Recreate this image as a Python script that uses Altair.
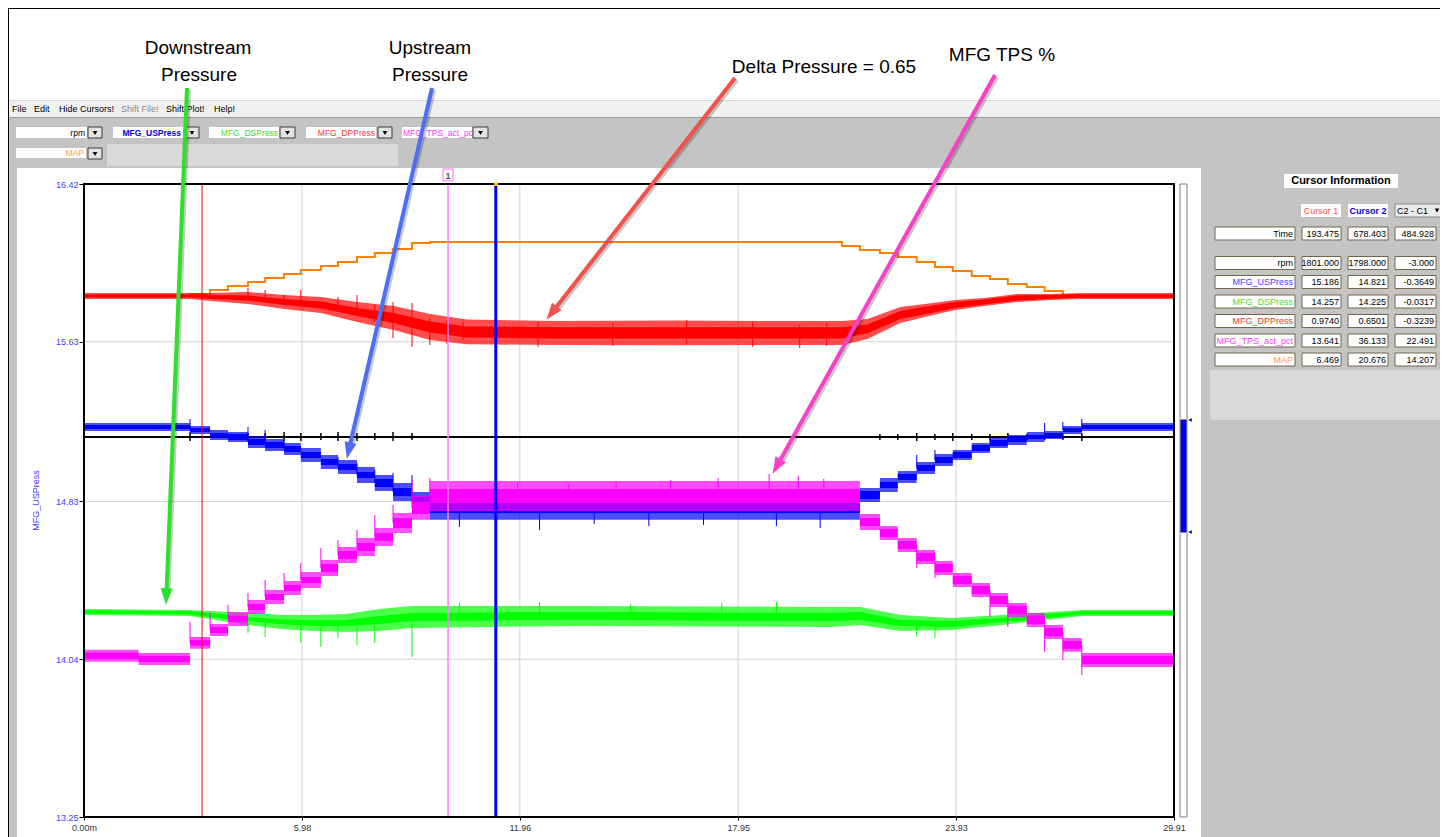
import altair as alt
import numpy as np
import pandas as pd

# ======================= values =======================
X_TICKS = [0.0, 5.98, 11.96, 17.95, 23.93, 29.91]
Y_TICKS = [13.25, 14.04, 14.83, 15.63, 16.42]
X_DOMAIN = [0.0, 29.91]
Y_DOMAIN = [13.25, 16.42]

# MAP (orange) - stepped trace
map_t = [0.00, 2.91, 3.46, 3.95, 4.50, 4.97, 5.49, 5.95, 6.50, 6.97, 7.49, 7.98, 8.48, 9.00, 9.49,
         20.80, 21.29, 21.84, 22.33, 22.85, 23.35, 23.84, 24.36, 24.86, 25.35, 25.87, 26.36, 26.86, 27.38, 29.91]
map_v = [15.859, 15.869, 15.889, 15.909, 15.929, 15.949, 15.969, 15.989, 16.009, 16.029, 16.054, 16.074, 16.095, 16.125, 16.130,
         16.110, 16.090, 16.074, 16.054, 16.029, 16.004, 15.984, 15.959, 15.944, 15.919, 15.904, 15.884, 15.864, 15.854, 15.854]

# MFG_DPPress (red) - centre, dense-core half-width, outer noise half-width
dp_t = [0.0, 2.9, 3.5, 4.5, 5.5, 6.5, 7.5, 8.5, 9.5, 10.5, 13.0, 16.0, 19.0, 20.8, 21.5, 22.4, 23.3, 23.9, 24.7, 25.6, 26.5, 27.4, 29.91]
dp_v = [15.859, 15.859, 15.854, 15.849, 15.829, 15.814, 15.779, 15.749, 15.704, 15.679, 15.674, 15.674, 15.674, 15.674,
        15.694, 15.764, 15.794, 15.814, 15.829, 15.849, 15.854, 15.859, 15.859]
dp_core = [0.008, 0.008, 0.010, 0.012, 0.015, 0.018, 0.020, 0.025, 0.028, 0.028, 0.028, 0.028, 0.028, 0.028,
           0.022, 0.020, 0.017, 0.015, 0.013, 0.012, 0.010, 0.008, 0.008]
dp_outer = [0.015, 0.015, 0.020, 0.030, 0.035, 0.040, 0.050, 0.060, 0.065, 0.062, 0.060, 0.062, 0.060, 0.060,
            0.050, 0.040, 0.030, 0.025, 0.020, 0.020, 0.015, 0.015, 0.015]
dp_spk_t = [4.50, 4.97, 5.49, 5.95, 6.97, 7.49, 7.98, 8.48, 9.00, 9.49, 9.96, 10.4, 12.46, 14.51, 16.54, 18.35, 19.64, 20.38]
dp_spk_a = [15.839, 15.829, 15.819, 15.809, 15.789, 15.779, 15.729, 15.649, 15.604, 15.614, 15.619, 15.639, 15.604, 15.609,
            15.619, 15.604, 15.599, 15.609]
dp_spk_b = [15.899, 15.889, 15.864, 15.889, 15.854, 15.864, 15.814, 15.829, 15.824, 15.749, 15.739, 15.729, 15.729, 15.724,
            15.739, 15.729, 15.714, 15.724]

# rpm (black)
rpm_t = [0.0, 29.91]
rpm_v = [15.153, 15.153]
rpm_spk_t = [2.91, 4.50, 4.97, 5.49, 5.95, 6.50, 6.97, 7.49, 7.98, 8.48, 9.00,
             21.84, 22.33, 22.85, 23.35, 23.84, 24.36, 24.86, 25.35, 25.87, 26.36, 26.86, 27.38]
rpm_spk_a = [15.133, 15.133, 15.138, 15.133, 15.133, 15.138, 15.133, 15.133, 15.138, 15.133, 15.138,
             15.138, 15.138, 15.133, 15.138, 15.133, 15.138, 15.138, 15.133, 15.138, 15.138, 15.138, 15.133]
rpm_spk_b = [15.178, 15.173, 15.173, 15.178, 15.173, 15.173, 15.178, 15.173, 15.173, 15.178, 15.173,
             15.168, 15.168, 15.173, 15.168, 15.173, 15.168, 15.168, 15.173, 15.168, 15.168, 15.168, 15.173]

# MFG_USPress (blue) - stepped trace
us_t = [0.00, 2.91, 3.46, 3.95, 4.50, 4.97, 5.49, 5.95, 6.50, 6.97, 7.49, 7.98, 8.48, 9.00, 9.49,
        21.29, 21.84, 22.33, 22.85, 23.35, 23.84, 24.36, 24.86, 25.35, 25.87, 26.36, 26.86, 27.38, 29.91]
us_v = [15.203, 15.188, 15.163, 15.153, 15.128, 15.113, 15.093, 15.063, 15.028, 15.003, 14.963, 14.923, 14.878, 14.828, 14.798,
        14.863, 14.913, 14.953, 14.998, 15.038, 15.063, 15.098, 15.123, 15.138, 15.153, 15.163, 15.188, 15.203, 15.203]
us_core = [0.010, 0.010, 0.010, 0.015, 0.015, 0.015, 0.015, 0.015, 0.015, 0.015, 0.015, 0.020, 0.020, 0.025, 0.025,
           0.020, 0.015, 0.015, 0.015, 0.015, 0.015, 0.015, 0.015, 0.010, 0.010, 0.010, 0.010, 0.010, 0.010]
us_outer = [0.020, 0.020, 0.025, 0.025, 0.030, 0.030, 0.030, 0.035, 0.035, 0.035, 0.040, 0.040, 0.045, 0.050, 0.060,
            0.035, 0.035, 0.030, 0.030, 0.030, 0.025, 0.025, 0.025, 0.025, 0.025, 0.020, 0.020, 0.020, 0.020]
us_spk_t = [2.91, 4.50, 4.97, 5.49, 6.97, 7.49, 7.98, 8.48, 9.00, 10.3, 12.5, 14.0, 15.5, 17.0, 19.0, 20.2,
            22.85, 23.35, 24.86, 25.35, 26.36, 26.86, 27.38]
us_spk_a = [15.188, 15.128, 15.113, 15.093, 15.003, 14.963, 14.923, 14.878, 14.828, 14.702, 14.687, 14.717, 14.707, 14.712,
            14.707, 14.697, 14.998, 15.038, 15.123, 15.138, 15.163, 15.188, 15.203]
us_spk_b = [15.243, 15.203, 15.188, 15.138, 15.053, 15.023, 14.988, 14.973, 14.963, 14.798, 14.798, 14.798, 14.798, 14.798,
            14.798, 14.798, 15.063, 15.088, 15.148, 15.173, 15.223, 15.228, 15.243]

# MFG_DSPress (green)
ds_t = [0.0, 2.9, 3.46, 3.95, 4.5, 5.4, 6.3, 7.2, 8.1, 9.0, 13.6, 20.5, 21.3, 22.4, 23.8, 25.2, 26.1, 27.4, 29.91]
ds_v = [14.277, 14.272, 14.262, 14.252, 14.242, 14.227, 14.222, 14.222, 14.237, 14.252, 14.257, 14.252, 14.257,
        14.222, 14.217, 14.237, 14.252, 14.272, 14.272]
ds_core = [0.008, 0.008, 0.010, 0.010, 0.010, 0.012, 0.015, 0.015, 0.020, 0.020, 0.020, 0.020, 0.020, 0.015, 0.015,
           0.010, 0.010, 0.008, 0.008]
ds_outer = [0.015, 0.015, 0.020, 0.025, 0.030, 0.035, 0.040, 0.045, 0.055, 0.055, 0.050, 0.050, 0.045, 0.040, 0.030,
            0.025, 0.020, 0.015, 0.015]
ds_spk_t = [4.50, 4.97, 5.95, 6.50, 6.97, 7.49, 7.98, 9.00, 10.3, 12.5, 15.0, 17.5, 19.0, 22.85, 23.35]
ds_spk_a = [14.172, 14.152, 14.122, 14.102, 14.147, 14.112, 14.122, 14.051, 14.252, 14.252, 14.252, 14.252, 14.252,
            14.152, 14.147]
ds_spk_b = [14.242, 14.237, 14.227, 14.222, 14.222, 14.222, 14.232, 14.252, 14.322, 14.327, 14.317, 14.322, 14.327,
            14.222, 14.222]

# MFG_TPS_act_pct (magenta) - stepped trace
tps_t = [0.00, 1.50, 2.91, 3.46, 3.95, 4.50, 4.97, 5.49, 5.95, 6.50, 6.97, 7.49, 7.98, 8.48, 9.00, 9.49,
         21.29, 21.84, 22.33, 22.85, 23.35, 23.84, 24.36, 24.86, 25.35, 25.87, 26.36, 26.86, 27.38, 29.91]
tps_v = [14.057, 14.041, 14.122, 14.187, 14.242, 14.302, 14.352, 14.397, 14.437, 14.497, 14.562, 14.602, 14.652, 14.722,
         14.798, 14.858, 14.727, 14.672, 14.612, 14.552, 14.497, 14.437, 14.387, 14.337, 14.287, 14.237, 14.177, 14.112,
         14.036, 14.036]
tps_core = [0.015, 0.015, 0.015, 0.015, 0.015, 0.015, 0.015, 0.015, 0.015, 0.020, 0.020, 0.020, 0.020, 0.025, 0.030, 0.035,
            0.020, 0.020, 0.020, 0.020, 0.020, 0.020, 0.020, 0.020, 0.020, 0.020, 0.020, 0.020, 0.020, 0.020]
tps_outer = [0.030, 0.030, 0.030, 0.030, 0.035, 0.035, 0.035, 0.035, 0.040, 0.040, 0.040, 0.045, 0.045, 0.050, 0.060, 0.075,
             0.040, 0.035, 0.035, 0.035, 0.035, 0.035, 0.035, 0.035, 0.035, 0.035, 0.035, 0.035, 0.035, 0.035]
tps_spk_t = [2.91, 3.46, 3.95, 4.50, 4.97, 5.49, 5.95, 6.50, 6.97, 7.49, 7.98, 8.48, 9.00,
             9.49, 11.9, 13.3, 14.6, 16.1, 17.4, 18.8, 19.6, 20.3,
             22.85, 23.35, 24.86, 25.35, 26.36, 26.86, 27.38]
tps_spk_a = [14.122, 14.187, 14.242, 14.302, 14.352, 14.397, 14.437, 14.497, 14.562, 14.602, 14.652, 14.722, 14.798,
             14.858, 14.858, 14.858, 14.858, 14.858, 14.858, 14.858, 14.858, 14.858,
             14.497, 14.447, 14.252, 14.202, 14.077, 14.036, 13.961]
tps_spk_b = [14.227, 14.272, 14.312, 14.372, 14.437, 14.472, 14.522, 14.597, 14.637, 14.687, 14.762, 14.813, 14.938,
             14.948, 14.928, 14.918, 14.928, 14.938, 14.948, 14.968, 14.958, 14.943,
             14.612, 14.552, 14.387, 14.337, 14.237, 14.177, 14.112]

# cursors (time positions)
cursor_t = [3.24, 9.99, 11.30]
cursor_c = ["#e01010", "#ff80ff", "#0000ff"]
cursor_w = [1, 1.5, 3]

# dropdown channel selectors
sel_names = ["rpm", "MFG_USPress", "MFG_DSPress", "MFG_DPPress", "MFG_TPS_act_pc", "MAP"]
sel_colors = ["#000000", "#0000ee", "#33e033", "#ff3333", "#ff33ff", "#ff9a40"]

# cursor information panel
info_labels = ["Time", "rpm", "MFG_USPress", "MFG_DSPress", "MFG_DPPress", "MFG_TPS_act_pct", "MAP"]
info_colors = ["#000000", "#000000", "#4040ff", "#40e040", "#ff3030", "#ff40ff", "#ff9a40"]
info_c1 = ["193.475", "1801.000", "15.186", "14.257", "0.9740", "13.641", "6.469"]
info_c2 = ["678.403", "1798.000", "14.821", "14.225", "0.6501", "36.133", "20.676"]
info_d = ["484.928", "-3.000", "-0.3649", "-0.0317", "-0.3239", "22.491", "14.207"]

# annotations
annot_text = ["Downstream", "Pressure", "Upstream", "Pressure", "Delta Pressure = 0.65", "MFG TPS %"]

# ======================= layout (screen pixels) =======================
OX, OY = 84, 184
PW, PH = 1090, 633
FONT = "Liberation Sans"


def px(x):
    return x - OX


def py(y):
    return y - OY


def PX(f):
    return alt.X(f + ":Q", scale=None, axis=None)


def PY(f):
    return alt.Y(f + ":Q", scale=None, axis=None)


xs = alt.Scale(domain=X_DOMAIN, nice=False, zero=False)
ys = alt.Scale(domain=Y_DOMAIN, nice=False, zero=False)
x_axis = alt.Axis(values=X_TICKS, labelExpr="datum.value == 0 ? '0.00m' : format(datum.value, '.2f')",
                  grid=False, domain=False, tickSize=3, tickColor="black", labelFont=FONT, labelFontSize=9,
                  labelColor="#333333", labelPadding=3, title=None, zindex=1, labelFlush=False, labelOverlap=False)
y_axis = alt.Axis(values=Y_TICKS, format=".2f", grid=False, domain=False, tickSize=5, tickColor="black",
                  labelFont=FONT, labelFontSize=9, labelColor="#4040ff", labelPadding=1, title="MFG_USPress",
                  titleColor="#4040ff", titleFont=FONT, titleFontSize=9, titleFontWeight="normal",
                  titleX=-49, titleY=316, titleAngle=270, titleAlign="center", titleBaseline="middle",
                  zindex=1, labelFlush=False, labelOverlap=False)


def XT(f="t"):
    return alt.X(f + ":Q", scale=xs, axis=x_axis)


def YV(f):
    return alt.Y(f + ":Q", scale=ys, axis=y_axis)


def rect_layer(rows, sw=1):
    df = pd.DataFrame(rows, columns=["x1", "y1", "x2", "y2", "fill", "stroke"])
    df["x1"] = df["x1"].map(px); df["x2"] = df["x2"].map(px)
    df["y1"] = df["y1"].map(py); df["y2"] = df["y2"].map(py)
    return alt.Chart(df).mark_rect(strokeWidth=sw).encode(
        x=PX("x1"), x2="x2:Q", y=PY("y1"), y2="y2:Q",
        fill=alt.Fill("fill:N", scale=None), stroke=alt.Stroke("stroke:N", scale=None))


def text_layer(rows, align="left", size=9, weight="normal", font=FONT):
    df = pd.DataFrame(rows, columns=["s", "x", "y", "c"])
    df["x"] = df["x"].map(px); df["y"] = df["y"].map(py)
    return alt.Chart(df).mark_text(align=align, baseline="middle", fontSize=size, fontWeight=weight, font=font).encode(
        x=PX("x"), y=PY("y"), text="s:N", color=alt.Color("c:N", scale=None))


def glyph_layer(rows, shape, size):
    df = pd.DataFrame(rows, columns=["x", "y", "c"])
    df["x"] = df["x"].map(px); df["y"] = df["y"].map(py)
    return alt.Chart(df).mark_point(shape=shape, size=size, filled=True, opacity=1, strokeWidth=0).encode(
        x=PX("x"), y=PY("y"), color=alt.Color("c:N", scale=None))


layers = []

# ---------- window background ----------
layers.append(rect_layer([
    (8, 8, 1443, 100, "#ffffff", "transparent"),
    (8, 100, 1443, 117, "#f0f0f0", "transparent"),
    (8, 117, 1443, 837, "#c4c4c4", "transparent"),
    (107, 144, 398, 166, "#d9d9d9", "transparent"),
    (17, 168, 1201, 837, "#ffffff", "transparent"),
    (1210, 370, 1441, 420, "#d9d9d9", "transparent"),
    (8, 100, 1443, 101, "#d6d6d6", "transparent"),
    (8, 117, 1443, 118, "#9a9a9a", "transparent"),
]))

# ---------- selector boxes ----------
sel_boxes = [(16, 127, 87, 138), (113, 127, 183, 138), (209, 127, 279, 138), (306, 127, 376, 138),
             (402, 127, 472, 138), (16, 148, 86, 158)]
sel_btns = [(88, 127, 102, 138), (185, 127, 199, 138), (280, 127, 295, 138), (378, 127, 392, 138),
            (473, 127, 488, 138), (88, 148, 102, 159)]
layers.append(rect_layer([b + ("#ffffff", "transparent") for b in sel_boxes]))
layers.append(text_layer([
    (sel_names[0], 85, 132.5, sel_colors[0]),
    (sel_names[2], 278, 132.5, sel_colors[2]),
    (sel_names[3], 375, 132.5, sel_colors[3]),
    (sel_names[5], 84, 153, sel_colors[5]),
], align="right", size=8.5))
layers.append(text_layer([(sel_names[1], 181, 132.5, sel_colors[1])], align="right", size=8.5, weight="bold"))
layers.append(text_layer([(sel_names[4], 403, 132.5, sel_colors[4])], align="left", size=8.5))
layers.append(rect_layer([b + ("#e3e3e3", "#3a3a3a") for b in sel_btns]))
layers.append(glyph_layer([((b[0] + b[2]) / 2, (b[1] + b[3]) / 2 + 0.5, "#000000") for b in sel_btns],
                          "triangle-down", 22))

# ---------- menu bar ----------
layers.append(text_layer([
    ("File", 12, 108.5, "#000000"), ("Edit", 34, 108.5, "#000000"), ("Hide Cursors!", 59, 108.5, "#000000"),
    ("Shift File!", 121, 108.5, "#8c8c8c"), ("Shift Plot!", 166, 108.5, "#000000"), ("Help!", 214, 108.5, "#000000"),
]))

# ---------- cursor information panel ----------
row_y = [233.5, 263, 282, 301.5, 321, 340.5, 359.5]
info_rects = [(1284, 174, 1398, 188, "#ffffff", "transparent"),
              (1301, 204, 1341, 217, "#ffffff", "transparent"),
              (1348, 204, 1388, 217, "#ffffff", "transparent"),
              (1395, 204, 1443, 217, "#ececec", "#8a8a8a")]
for y in row_y:
    for (a, b) in [(1215, 1295), (1302, 1341), (1348, 1388), (1395, 1436)]:
        info_rects.append((a, y - 6.5, b, y + 6.5, "#ffffff", "#72664c"))
layers.append(rect_layer(info_rects))
layers.append(text_layer([("Cursor Information", 1341, 181, "#000000")], align="center", size=11, weight="bold"))
layers.append(text_layer([("Cursor 1", 1321, 210.5, "#ff5050")], align="center"))
layers.append(text_layer([("Cursor 2", 1368, 210.5, "#0000ee")], align="center", weight="bold"))
layers.append(text_layer([("C2 - C1", 1397, 210.5, "#000000")]))
layers.append(glyph_layer([(1437, 210.5, "#000000")], "triangle-down", 22))
rows_r = []
for i, y in enumerate(row_y):
    rows_r.append((info_labels[i], 1293, y, info_colors[i]))
    rows_r.append((info_c1[i], 1339, y, "#000000"))
    rows_r.append((info_c2[i], 1386, y, "#000000"))
    rows_r.append((info_d[i], 1434, y, "#000000"))
layers.append(text_layer(rows_r, align="right"))

# ---------- side scroll bar ----------
layers.append(rect_layer([(1180, 184, 1187, 817, "#ffffff", "#7f7f7f"),
                          (1181, 420, 1186, 532, "#0000ff", "#000080")]))
layers.append(glyph_layer([(1190, 420, "#1a1a9a"), (1190, 532, "#1a1a9a")], "triangle-left", 18))

# ---------- grid ----------
layers.append(alt.Chart(pd.DataFrame({"t": X_TICKS[1:-1]})).mark_rule(color="#d2d2d2", strokeWidth=1).encode(x=XT()))
layers.append(alt.Chart(pd.DataFrame({"v": Y_TICKS[1:-1]})).mark_rule(color="#d2d2d2", strokeWidth=1).encode(y=YV("v")))
# axis carrier
layers.append(alt.Chart(pd.DataFrame({"t": X_TICKS, "v": Y_TICKS + [16.42]})).mark_point(opacity=0).encode(
    x=XT(), y=YV("v")))


def band_df(t, v, core, outer):
    v = np.array(v); c = np.array(core); o = np.array(outer)
    return pd.DataFrame({"t": t, "lo": v - c, "hi": v + c, "olo": v - o, "ohi": v + o})


def band_layers(df, color, interp):
    return [
        alt.Chart(df).mark_area(interpolate=interp, color=color, opacity=0.7).encode(
            x=XT(), y=YV("olo"), y2="ohi:Q"),
        alt.Chart(df).mark_area(interpolate=interp, color=color, opacity=1).encode(
            x=XT(), y=YV("lo"), y2="hi:Q"),
    ]


def spike_layer(t, a, b, color, w=1):
    return alt.Chart(pd.DataFrame({"t": t, "a": a, "b": b})).mark_rule(color=color, strokeWidth=w).encode(
        x=XT(), y=YV("a"), y2="b:Q")


# ---------- traces ----------
layers.append(alt.Chart(pd.DataFrame({"t": map_t, "v": map_v})).mark_line(
    interpolate="step-after", color="#ff8000", strokeWidth=2).encode(x=XT(), y=YV("v")))
layers += band_layers(band_df(dp_t, dp_v, dp_core, dp_outer), "#ff0000", "linear")
layers.append(spike_layer(dp_spk_t, dp_spk_a, dp_spk_b, "#ff0000", 1))
layers.append(alt.Chart(pd.DataFrame({"t": rpm_t, "v": rpm_v})).mark_line(color="#000000", strokeWidth=2).encode(
    x=XT(), y=YV("v")))
layers.append(spike_layer(rpm_spk_t, rpm_spk_a, rpm_spk_b, "#000000", 1.5))
layers += band_layers(band_df(us_t, us_v, us_core, us_outer), "#0000ff", "step-after")
layers.append(spike_layer(us_spk_t, us_spk_a, us_spk_b, "#0000ff", 1))
layers += band_layers(band_df(ds_t, ds_v, ds_core, ds_outer), "#00ff00", "linear")
layers.append(spike_layer(ds_spk_t, ds_spk_a, ds_spk_b, "#00ff00", 1))
layers += band_layers(band_df(tps_t, tps_v, tps_core, tps_outer), "#ff00ff", "step-after")
layers.append(spike_layer(tps_spk_t, tps_spk_a, tps_spk_b, "#ff00ff", 1))

# ---------- cursors ----------
for t, c, w in zip(cursor_t, cursor_c, cursor_w):
    layers.append(alt.Chart(pd.DataFrame({"t": [t]})).mark_rule(color=c, strokeWidth=w).encode(x=XT()))

# ---------- plot frame ----------
layers.append(alt.Chart(pd.DataFrame({"a": [0]})).mark_rect(fillOpacity=0, stroke="black", strokeWidth=2).encode(
    x=alt.value(0), x2=alt.value(PW), y=alt.value(0), y2=alt.value(PH)))
layers.append(rect_layer([(443, 169, 453, 181, "#ffffff", "#ff66ff")]))
layers.append(text_layer([("1", 448, 175.5, "#555555")], align="center", weight="bold"))
layers.append(glyph_layer([(496, 184, "#ffd800")], "square", 14))

# ---------- annotation arrows ----------
arrows = pd.DataFrame({
    "x1": [187, 432, 735, 995], "y1": [88, 88, 78, 75],
    "x2": [166, 347, 547, 773], "y2": [604, 458, 319, 473],
    "c": ["#2ee02e", "#4d6ef5", "#f0524c", "#f542c8"],
})
dx = arrows["x2"] - arrows["x1"]; dy = arrows["y2"] - arrows["y1"]
L = np.sqrt(dx ** 2 + dy ** 2)
arrows["ang"] = (np.degrees(np.arctan2(dx, -dy)) + 360) % 360
arrows["hx"] = arrows["x2"] - dx / L * 9
arrows["hy"] = arrows["y2"] - dy / L * 9
arrows["ex"] = arrows["x2"] - dx / L * 12
arrows["ey"] = arrows["y2"] - dy / L * 12
for col in ["x1", "x2", "hx", "ex"]:
    arrows[col] = arrows[col].map(px)
for col in ["y1", "y2", "hy", "ey"]:
    arrows[col] = arrows[col].map(py)
arrows["sx1"] = arrows["x1"] + 2; arrows["sy1"] = arrows["y1"] + 2
arrows["sx2"] = arrows["ex"] + 2; arrows["sy2"] = arrows["ey"] + 2

layers.append(alt.Chart(arrows).mark_rule(color="#000000", opacity=0.22, strokeWidth=4).encode(
    x=PX("sx1"), y=PY("sy1"), x2="sx2:Q", y2="sy2:Q"))
layers.append(alt.Chart(arrows).mark_rule(strokeWidth=4).encode(
    x=PX("x1"), y=PY("y1"), x2="ex:Q", y2="ey:Q", color=alt.Color("c:N", scale=None)))
layers.append(alt.Chart(arrows).mark_point(shape="M0,-1L0.62,0.7L-0.62,0.7Z", size=380, filled=True, opacity=1,
                                           strokeWidth=0).encode(
    x=PX("hx"), y=PY("hy"), color=alt.Color("c:N", scale=None), angle=alt.Angle("ang:Q", scale=None)))

layers.append(text_layer([
    (annot_text[0], 198, 48, "#000000"), (annot_text[1], 199, 75, "#000000"),
    (annot_text[2], 430, 48, "#000000"), (annot_text[3], 430, 75, "#000000"),
    (annot_text[4], 824, 67, "#000000"), (annot_text[5], 1002, 55, "#000000"),
], align="center", size=19))

# window frame
layers.append(rect_layer([(8, 8, 1443, 838, "transparent", "#000000")], sw=2))

chart = alt.layer(*layers).properties(
    width=PW, height=PH,
    padding={"left": OX - 8, "top": OY - 8, "right": 1440 - (OX + PW), "bottom": 837 - (OY + PH)},
    autosize=alt.AutoSizeParams(type="none"),
    background="white",
).configure_view(stroke=None).configure(font=FONT)

chart.save("out.html", embed_options={"renderer": "svg", "actions": False})
